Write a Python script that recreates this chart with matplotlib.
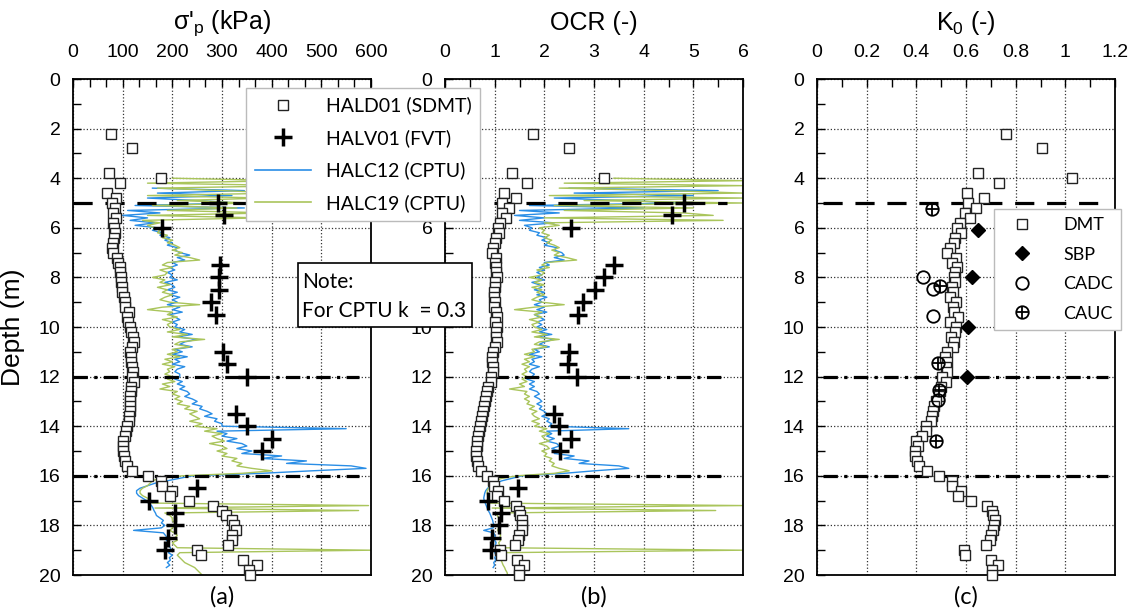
import matplotlib
matplotlib.use("Agg")
import matplotlib.pyplot as plt
import numpy as np
from matplotlib.ticker import MultipleLocator, FuncFormatter
from matplotlib.lines import Line2D
from matplotlib.patches import Rectangle

plt.rcParams['font.family'] = ['Liberation Sans', 'DejaVu Sans']
plt.rcParams['mathtext.default'] = 'regular'

# ========================= data ========================= #
# SDMT (HALD01)
sdmt_depth = [2.2, 2.8, 3.8, 4.0, 4.2] + list(np.round(np.arange(4.6, 20.01, 0.2), 1))
sdmt_sigp = [76, 119, 72, 177, 95,
             69, 86,
             78, 84, 80, 86, 80,
             82, 84, 82, 80, 78,
             80, 89, 90, 94, 95,
             97, 96, 98, 99, 102,
             104, 105, 112, 108, 110,
             115, 116, 120, 122, 118,
             114, 116, 116, 118, 120,
             118, 122, 117, 116, 115,
             115, 114, 114, 113, 112,
             108, 106, 104, 100, 101,
             101, 102, 105, 109, 119,
             151, 178, 179, 199, 196,
             233, 282, 301, 308, 321,
             325, 328, 320, 320, 313,
             249, 257, 343, 370, 354,
             357]
sdmt_ocr = [1.78, 2.50, 1.34, 3.21, 1.66,
            1.19, 1.42,
            1.15, 1.29, 1.15, 1.23, 1.10,
            1.07, 1.08, 1.03, 1.01, 0.97,
            0.94, 1.02, 1.00, 1.03, 1.02,
            1.04, 1.01, 1.00, 0.99, 0.98,
            1.00, 0.99, 1.03, 1.04, 1.00,
            1.04, 1.03, 1.02, 1.04, 1.00,
            0.97, 0.95, 0.95, 0.96, 0.96,
            0.92, 0.93, 0.86, 0.85, 0.83,
            0.81, 0.79, 0.77, 0.74, 0.73,
            0.71, 0.69, 0.66, 0.64, 0.64,
            0.63, 0.63, 0.65, 0.67, 0.72,
            0.84, 0.97, 0.99, 1.07, 1.04,
            1.19, 1.43, 1.49, 1.52, 1.55,
            1.56, 1.55, 1.48, 1.46, 1.41,
            1.11, 1.13, 1.45, 1.59, 1.49,
            1.49]
sdmt_k0 = [0.762, 0.907, 0.647, 1.026, 0.734,
           0.604, 0.674,
           0.610, 0.639, 0.596, 0.616, 0.576,
           0.565, 0.578, 0.556, 0.552, 0.536,
           0.525, 0.558, 0.545, 0.562, 0.556,
           0.552, 0.555, 0.545, 0.548, 0.536,
           0.558, 0.547, 0.553, 0.567, 0.536,
           0.560, 0.556, 0.538, 0.550, 0.548,
           0.525, 0.515, 0.525, 0.518, 0.525,
           0.505, 0.520, 0.500, 0.494, 0.490,
           0.480, 0.473, 0.468, 0.462, 0.458,
           0.440, 0.440, 0.423, 0.400, 0.407,
           0.396, 0.396, 0.404, 0.410, 0.443,
           0.493, 0.544, 0.544, 0.580, 0.566,
           0.620, 0.683, 0.703, 0.707, 0.715,
           0.713, 0.710, 0.699, 0.695, 0.680,
           0.590, 0.597, 0.700, 0.727, 0.703,
           0.703]

# FVT (HALV01)
fvt_depth = [5.0, 5.5, 6.0, 7.5, 8.0, 8.5, 9.0, 9.5, 11.0, 11.5, 12.0,
             13.5, 14.0, 14.5, 15.0, 16.5, 17.0, 17.5, 18.0, 18.5, 19.0]
fvt_sigp = [292, 305, 180, 296, 293, 293, 277, 288, 303, 311, 350,
            328, 351, 401, 381, 249, 153, 205, 205, 192, 185]
fvt_ocr = [4.82, 4.58, 2.54, 3.41, 3.21, 3.02, 2.77, 2.68, 2.50, 2.48, 2.66,
           2.20, 2.30, 2.53, 2.32, 1.46, 0.87, 1.12, 1.09, 0.95, 0.93]

# CPTU profiles, sampled every 0.1 m from 4.0 m to 20.0 m
nan = np.nan
cpt_depth = np.round(np.arange(4.0, 20.05, 0.1), 1)
halc12_sigp = [nan, nan, nan, nan, 160, 345, 170, 320, 150, 250,
               330, 125, 345, 110, 175, 100, 150, 115, 165, 125,
               170, 160, 180, 175, 195, 185, 200, 190, 210, 205,
               215, 235, 210, 225, 200, 210, 195, 205, 190, 200,
               195, 210, 185, 200, 205, 190, 210, 195, 215, 200,
               210, 190, 215, 200, 220, 195, 205, 215, 200, 210,
               205, 225, 215, 240, 210, 250, 225, 215, 240, 205,
               220, 200, 230, 205, 215, 200, 225, 210, 205, 215,
               215, 205, 220, 210, 225, 215, 230, 235, 225, 240,
               250, 240, 260, 255, 270, 280, 265, 290, 285, 300,
               300, 550, 290, 310, 300, 330, 310, 340, 350, 330,
               360, 340, 420, 380, 470, 430, 560, 590, 480, 380,
               240, 215, 190, 165, 150, 135, 128, 128, 132, 140,
               148, 152, 158, 161, 163, 166, 168, 175, 182, 178,
               185, 178, 122, 182, 186, 190, 188, 194, 192, 196,
               198, 192, 200, 194, 196, 190, 195, 188, nan, nan,
               nan]
halc19_sigp = [200, 430, 150, 460, 170, 300, 420, 150, 390, 210,
               360, 160, 330, 190, 400, 150, 380, 140, 175, 150,
               165, 175, 170, 190, 180, 200, 190, 205, 215, 200,
               220, 205, 235, 255, 190, 180, 200, 175, 190, 185,
               160, 185, 175, 195, 170, 190, 180, 200, 185, 175,
               195, 255, 180, 150, 200, 190, 210, 180, 200, 190,
               195, 215, 190, 230, 200, 265, 215, 205, 235, 200,
               210, 190, 215, 185, 200, 180, 205, 190, 195, 185,
               200, 190, 205, 180, 195, 175, 210, 200, 215, 205,
               220, 210, 235, 225, 250, 235, 245, 255, 235, 260,
               245, 290, 265, 300, 280, 290, 305, 275, 300, 310,
               290, 310, 300, 330, 320, 340, 330, 360, 400, 340,
               220, 175, 160, 155, 150, 140, 135, 135, 140, 150,
               155, 160, 595, 165, 575, 185, 195, 200, 200, 205,
               205, 200, 195, 205, 210, 205, 210, 200, 205, 210,
               600, 215, 210, 215, 220, 225, 235, 245, 250, 255,
               260]
halc12_ocr = [nan, nan, nan, nan, 2.5, 5.5, 2.6, 5.0, 2.2, 3.6,
              4.8, 1.7, 4.0, 1.5, 2.3, 1.4, 2.0, 1.5, 2.2, 1.6,
              1.75, 1.7, 1.9, 1.85, 2.05, 1.95, 2.1, 2.0, 2.25, 2.2,
              2.35, 2.4, 2.2, 2.4, 2.0, 2.1, 1.9, 2.0, 1.85, 1.95,
              1.85, 2.0, 1.75, 1.9, 1.95, 1.8, 2.0, 1.85, 2.05, 1.9,
              1.95, 1.8, 2.0, 1.85, 2.05, 1.8, 1.9, 2.0, 1.85, 1.95,
              1.85, 2.05, 1.9, 2.15, 1.85, 2.2, 2.0, 1.9, 2.1, 1.8,
              1.9, 1.7, 1.95, 1.75, 1.8, 1.7, 1.9, 1.75, 1.7, 1.8,
              1.75, 1.65, 1.8, 1.7, 1.8, 1.7, 1.85, 1.9, 1.8, 1.9,
              1.95, 1.85, 1.95, 1.9, 2.0, 2.05, 1.95, 2.1, 2.05, 2.15,
              2.1, 3.7, 2.05, 2.15, 2.05, 2.2, 2.05, 2.25, 2.3, 2.15,
              2.3, 2.2, 2.6, 2.4, 2.9, 2.7, 3.5, 3.7, 3.0, 2.4,
              1.55, 1.35, 1.15, 1.0, 0.92, 0.86, 0.82, 0.8, 0.79, 0.78,
              0.79, 0.81, 0.83, 0.85, 0.87, 0.9, 0.92, 0.94, 0.96, 0.97,
              0.99, 0.97, 0.78, 0.98, 1.0, 1.02, 1.0, 1.03, 1.01, 1.03,
              1.04, 1.0, 1.03, 1.0, 1.02, 0.98, 1.0, 0.97, nan, nan,
              nan]
halc19_ocr = [3.4, 6.0, 2.4, 6.0, 2.3, 4.5, 6.0, 2.1, 6.0, 2.8,
              6.0, 2.2, 5.0, 2.4, 4.8, 5.4, 2.0, 5.6, 2.0, 2.3,
              1.9, 2.0, 1.95, 2.1, 2.0, 2.15, 2.05, 2.2, 2.3, 2.15,
              2.3, 2.2, 2.45, 2.65, 2.05, 1.95, 2.1, 1.85, 2.0, 1.95,
              1.7, 1.95, 1.8, 2.0, 1.75, 1.95, 1.85, 2.0, 1.85, 1.75,
              1.95, 2.4, 1.8, 1.4, 1.95, 1.8, 1.95, 1.7, 1.9, 1.75,
              1.8, 1.95, 1.75, 2.05, 1.8, 2.3, 1.9, 1.8, 2.05, 1.75,
              1.8, 1.6, 1.8, 1.6, 1.7, 1.55, 1.7, 1.6, 1.65, 1.55,
              1.65, 1.55, 1.65, 1.5, 1.6, 1.3, 1.65, 1.6, 1.7, 1.6,
              1.7, 1.65, 1.8, 1.7, 1.85, 1.75, 1.8, 1.9, 1.75, 1.9,
              1.8, 2.05, 1.9, 2.1, 1.95, 2.0, 2.1, 1.9, 2.05, 2.1,
              1.95, 2.05, 2.0, 2.15, 2.1, 2.2, 2.15, 2.3, 2.5, 2.2,
              1.45, 1.15, 1.0, 0.95, 0.92, 0.88, 0.85, 0.85, 0.86, 0.88,
              0.9, 0.92, 6.0, 0.95, 5.45, 1.0, 1.05, 1.08, 1.08, 1.1,
              1.1, 1.08, 1.06, 1.1, 1.12, 1.1, 1.12, 1.08, 1.1, 1.12,
              6.0, 1.12, 1.1, 1.12, 1.13, 1.15, 1.17, 1.2, 1.22, 1.25,
              1.26]

# K0 from laboratory / in situ tests
sbp_depth = [6.1, 8.0, 10.0, 12.0]
sbp_k0 = [0.649, 0.623, 0.608, 0.603]
cadc_depth = [8.0, 8.45, 9.55, 12.95]
cadc_k0 = [0.428, 0.466, 0.469, 0.486]
cauc_depth = [5.25, 8.35, 11.45, 12.55, 14.6]
cauc_k0 = [0.464, 0.495, 0.486, 0.493, 0.478]

# layer boundaries
boundary_depth = [5, 12, 16]

# ============================================================= #
blue = '#2a8ee6'
green = '#aac55c'
dash_style = (0, (6, 4))
dashdot_style = (0, (4.5, 2, 1, 2))
boundary_styles = [dash_style, dashdot_style, dashdot_style]

fig = plt.figure(figsize=(11.32, 6.10), dpi=100)
W, H = 1132.0, 610.0
ax_top, ax_bot = 79, 575
lefts = [73, 445, 817]
axes = [fig.add_axes([l / W, 1 - ax_bot / H, 298 / W, (ax_bot - ax_top) / H]) for l in lefts]
ax_a, ax_b, ax_c = axes

xlims = [600, 6, 1.2]
xmajor = [100, 1, 0.2]
xminor = [100 / 3.0, 0.5, 0.1]
titles = ["σ'$_{p}$ (kPa)", "OCR (-)", "K$_{0}$ (-)"]
letters = ["(a)", "(b)", "(c)"]
boundary_span = [(0.0, 0.96), (0.165, 0.945), (0.02, 0.975)]

for i, ax in enumerate(axes):
    ax.set_xlim(0, xlims[i])
    ax.set_ylim(20, 0)
    ax.xaxis.tick_top()
    ax.xaxis.set_major_locator(MultipleLocator(xmajor[i]))
    ax.xaxis.set_minor_locator(MultipleLocator(xminor[i]))
    ax.yaxis.set_major_locator(MultipleLocator(2))
    ax.yaxis.set_minor_locator(MultipleLocator(1))
    ax.xaxis.set_major_formatter(FuncFormatter(lambda v, p: '%g' % round(v, 2)))
    ax.yaxis.set_major_formatter(FuncFormatter(lambda v, p: '%d' % v))
    ax.tick_params(which='both', direction='in', top=True, bottom=False,
                   left=True, right=False, labeltop=True, labelbottom=False,
                   labelsize=14, width=1)
    ax.tick_params(which='major', length=6)
    ax.tick_params(which='minor', length=6)
    ax.tick_params(axis='x', pad=13)
    ax.tick_params(axis='y', pad=9)
    ax.grid(which='major', linestyle=':', color='#333333', linewidth=0.9)
    for s in ax.spines.values():
        s.set_linewidth(1.3)
    ax.text(0.5, 1.112, titles[i], transform=ax.transAxes, ha='center',
            va='center', fontsize=18)
    ax.text(0.5, -0.045, letters[i], transform=ax.transAxes, ha='center',
            va='center', fontsize=17, family=['Lato', 'DejaVu Sans'])
    for d, st in zip(boundary_depth, boundary_styles):
        ax.axhline(d, xmin=boundary_span[i][0], xmax=boundary_span[i][1],
                   color='black', linewidth=2.3, linestyle=st, zorder=3)

# the (b) depth labels 2 and 4 sit under the shared legend, as in the original
ax_b.yaxis.set_major_formatter(
    FuncFormatter(lambda v, p: '' if int(round(v)) in (2, 4) else '%d' % v))

ax_a.set_ylabel('Depth (m)', fontsize=19, labelpad=10)

# (a) preconsolidation stress
ax_a.plot(halc12_sigp, cpt_depth, color=blue, linewidth=1.0, zorder=2)
ax_a.plot(halc19_sigp, cpt_depth, color=green, linewidth=1.0, zorder=2)
ax_a.plot(sdmt_sigp, sdmt_depth, linestyle='none', marker='s', ms=7,
          mfc='white', mec='#222222', mew=1.0, zorder=4, clip_on=False)
ax_a.plot(fvt_sigp, fvt_depth, linestyle='none', marker='+', ms=13,
          mec='black', mew=2.5, zorder=5, clip_on=False)

# (b) OCR
ax_b.plot(halc12_ocr, cpt_depth, color=blue, linewidth=1.0, zorder=2)
ax_b.plot(halc19_ocr, cpt_depth, color=green, linewidth=1.0, zorder=2)
ax_b.plot(sdmt_ocr, sdmt_depth, linestyle='none', marker='s', ms=7,
          mfc='white', mec='#222222', mew=1.0, zorder=4, clip_on=False)
ax_b.plot(fvt_ocr, fvt_depth, linestyle='none', marker='+', ms=13,
          mec='black', mew=2.5, zorder=5, clip_on=False)

# (c) K0
h_dmt, = ax_c.plot(sdmt_k0, sdmt_depth, linestyle='none', marker='s', ms=7,
                   mfc='white', mec='#222222', mew=1.0, zorder=4, clip_on=False)
h_sbp, = ax_c.plot(sbp_k0, sbp_depth, linestyle='none', marker='D', ms=7,
                   mfc='black', mec='black', zorder=5)
h_cadc, = ax_c.plot(cadc_k0, cadc_depth, linestyle='none', marker='o', ms=9,
                    mfc='none', mec='black', mew=1.3, zorder=5)
h_cauc1, = ax_c.plot(cauc_k0, cauc_depth, linestyle='none', marker='o', ms=9,
                     mfc='none', mec='black', mew=1.3, zorder=5)
h_cauc2, = ax_c.plot(cauc_k0, cauc_depth, linestyle='none', marker='+', ms=9,
                     mec='black', mew=1.3, zorder=5)

leg_c = ax_c.legend([h_dmt, h_sbp, h_cadc, (h_cauc1, h_cauc2)],
                    ['DMT', 'SBP', 'CADC', 'CAUC'],
                    loc='upper left', bbox_to_anchor=(0.594, 0.738),
                    borderaxespad=0, fancybox=False, framealpha=1,
                    edgecolor='#bbbbbb', handlelength=2.2, handletextpad=1.2,
                    labelspacing=0.75, borderpad=0.45,
                    prop={'family': 'Lato', 'size': 13})
leg_c.set_zorder(10)

# legend for (a)/(b), lying over both panels
leg_handles = [
    Line2D([], [], linestyle='none', marker='s', ms=7, mfc='white', mec='#222222', mew=1.0),
    Line2D([], [], linestyle='none', marker='+', ms=13, mec='black', mew=2.5),
    Line2D([], [], color=blue, linewidth=1.2),
    Line2D([], [], color=green, linewidth=1.2),
]
leg_labels = ['HALD01 (SDMT)', 'HALV01 (FVT)', 'HALC12 (CPTU)', 'HALC19 (CPTU)']
fig.legend(leg_handles, leg_labels, loc='upper left',
           bbox_to_anchor=(246 / W, 1 - 88 / H), borderaxespad=0,
           fancybox=False, framealpha=1, edgecolor='#bbbbbb',
           handlelength=2.9, handletextpad=0.75, labelspacing=0.75,
           borderpad=0.45, prop={'family': 'Lato', 'size': 14})

# note box
fig.patches.append(Rectangle((298 / W, 1 - 327 / H), 174 / W, 64 / H,
                             transform=fig.transFigure, facecolor='white',
                             edgecolor='black', linewidth=1.2, zorder=6))
fig.text(302 / W, 1 - 282 / H, 'Note:', fontsize=15, va='center',
         family=['Lato', 'DejaVu Sans'], zorder=7)
fig.text(302 / W, 1 - 311 / H, 'For CPTU k  = 0.3', fontsize=15, va='center',
         family=['Lato', 'DejaVu Sans'], zorder=7)

fig.savefig('out.png', dpi=100)
